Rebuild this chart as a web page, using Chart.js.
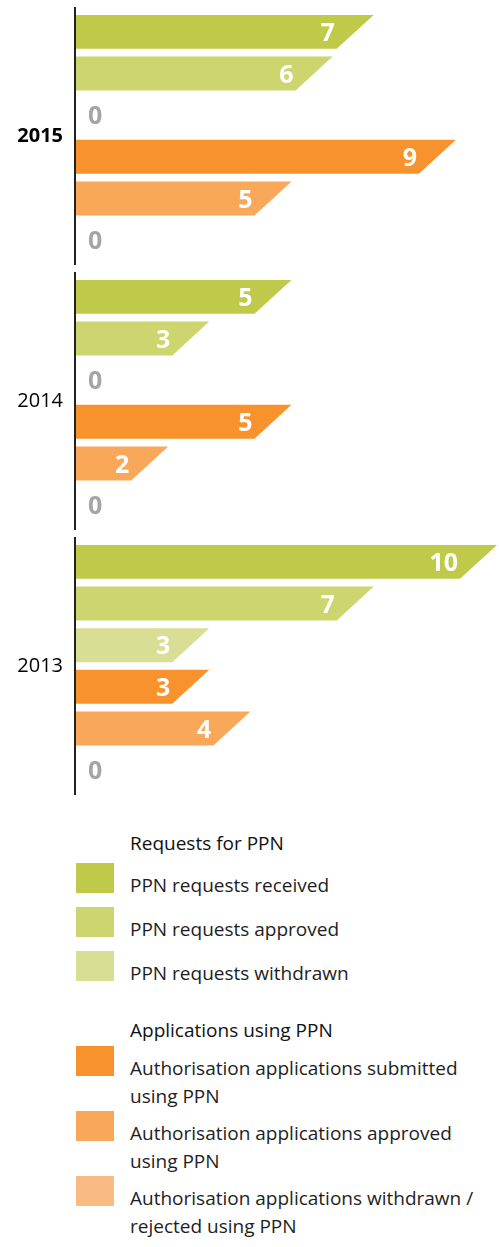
<!doctype html>
<html lang="en">
<head>
  <meta charset="UTF-8">
  <title>PPN requests and applications</title>
  <style>
    html, body {
      margin: 0;
      padding: 0;
      background: #fff;
      font-family: "Open Sans", Arial, sans-serif;
    }
    #wrap { position: relative; width: 499px; height: 800px; }
    #legend { padding: 29px 0 0 76px; color: #1e1e1e; font-size: 19px; line-height: 28px; }
    .head { margin-left: 54px; color: #111; }
    .item { display: flex; align-items: flex-start; }
    .sw { width: 38px; height: 30px; flex: none; }
    .txt { margin-left: 16px; padding-top: 8px; }
  </style>
</head>
<body>
  <div id="wrap"><canvas id="datavis"></canvas></div>
  <div id="legend"></div>

  <script src="https://cdn.jsdelivr.net/npm/chart.js@4/dist/chart.umd.min.js"></script>
  <script>
    // values, one array per series
    const years = ['2015', '2014', '2013'];
    const ppnReceived = [7, 5, 10];
    const ppnApproved = [6, 3, 7];
    const ppnWithdrawn = [0, 0, 3];
    const appSubmitted = [9, 5, 3];
    const appApproved = [5, 2, 4];
    const appWithdrawn = [0, 0, 0];

    const groupTitles = ['Requests for PPN', 'Applications using PPN'];
    const seriesLabels = [
      ['PPN requests received'],
      ['PPN requests approved'],
      ['PPN requests withdrawn'],
      ['Authorisation applications submitted', 'using PPN'],
      ['Authorisation applications approved', 'using PPN'],
      ['Authorisation applications withdrawn /', 'rejected using PPN']
    ];
    const colors = ['#c0ca4a', '#cdd56f', '#d8df94', '#f7922d', '#f8a858', '#fabb82'];
    const seriesData = [ppnReceived, ppnApproved, ppnWithdrawn, appSubmitted, appApproved, appWithdrawn];

    const SLANT = 37;

    // bars are drawn as slanted-end shapes instead of plain rectangles
    const slantBars = {
      id: 'slantBars',
      beforeDatasetDraw() { return false; },
      afterDatasetsDraw(chart) {
        const ctx = chart.ctx;
        const left = chart.chartArea.left;
        chart.data.datasets.forEach(function (ds, i) {
          chart.getDatasetMeta(i).data.forEach(function (bar, j) {
            const v = ds.data[j];
            const top = bar.y - bar.height / 2;
            const bottom = bar.y + bar.height / 2;
            ctx.save();
            ctx.font = 'bold 25px "Open Sans"';
            ctx.textBaseline = 'middle';
            if (v > 0) {
              ctx.fillStyle = ds.backgroundColor;
              ctx.beginPath();
              ctx.moveTo(left + 1, top);
              ctx.lineTo(bar.x, top);
              ctx.lineTo(bar.x - SLANT, bottom);
              ctx.lineTo(left + 1, bottom);
              ctx.closePath();
              ctx.fill();
              ctx.fillStyle = '#fff';
              ctx.textAlign = 'right';
              ctx.fillText(String(v), bar.x - SLANT - 2, bar.y + 2);
            } else {
              ctx.fillStyle = '#a5a5a5';
              ctx.textAlign = 'left';
              ctx.fillText(String(v), left + 13, bar.y + 2);
            }
            ctx.restore();
          });
        });

        // one axis segment per year group
        const ys = chart.scales.y;
        ctx.save();
        ctx.strokeStyle = '#222';
        ctx.lineWidth = 2;
        ys.ticks.forEach(function (t, k) {
          const c = ys.getPixelForTick(k);
          ctx.beginPath();
          ctx.moveTo(left, c - 129);
          ctx.lineTo(left, c + 129);
          ctx.stroke();
        });
        ctx.restore();
      }
    };

    new Chart('datavis', {
      type: 'bar',
      data: {
        labels: years,
        datasets: seriesData.map(function (d, i) {
          return {
            label: seriesLabels[i].join(' '),
            data: d,
            backgroundColor: colors[i],
            categoryPercentage: 0.943,
            barPercentage: 0.816
          };
        })
      },
      options: {
        indexAxis: 'y',
        responsive: true,
        maintainAspectRatio: false,
        animation: false,
        layout: { padding: { top: 3.5, bottom: 1.5, left: 0, right: 0 } },
        plugins: { legend: { display: false }, tooltip: { enabled: false } },
        scales: {
          x: { display: false, min: -0.2676, max: 10.048 },
          y: {
            grid: { display: false, drawTicks: false },
            border: { display: false },
            afterFit: function (scale) {
              scale.width = 75;
              scale.paddingTop = 0;
              scale.paddingBottom = 0;
            },
            ticks: {
              padding: 12,
              color: '#000',
              font: function (c) {
                return { family: '"Open Sans"', size: 20, weight: c.index === 0 ? 'bold' : 'normal' };
              }
            }
          }
        }
      },
      plugins: [slantBars]
    });

    // legend in two groups
    const legend = document.getElementById('legend');
    [[0, 1, 2], [3, 4, 5]].forEach(function (idx, g) {
      const h = document.createElement('div');
      h.className = 'head';
      h.textContent = groupTitles[g];
      h.style.marginTop = g === 0 ? '0' : '29px';
      h.style.marginBottom = g === 0 ? '6px' : '2px';
      legend.appendChild(h);
      idx.forEach(function (i) {
        const it = document.createElement('div');
        it.className = 'item';
        it.style.marginBottom = g === 0 ? '8px' : '1px';
        const sw = document.createElement('div');
        sw.className = 'sw';
        sw.style.background = colors[i];
        const tx = document.createElement('div');
        tx.className = 'txt';
        seriesLabels[i].forEach(function (line, k) {
          if (k) tx.appendChild(document.createElement('br'));
          tx.appendChild(document.createTextNode(line));
        });
        it.appendChild(sw);
        it.appendChild(tx);
        legend.appendChild(it);
      });
    });
  </script>
</body>
</html>
